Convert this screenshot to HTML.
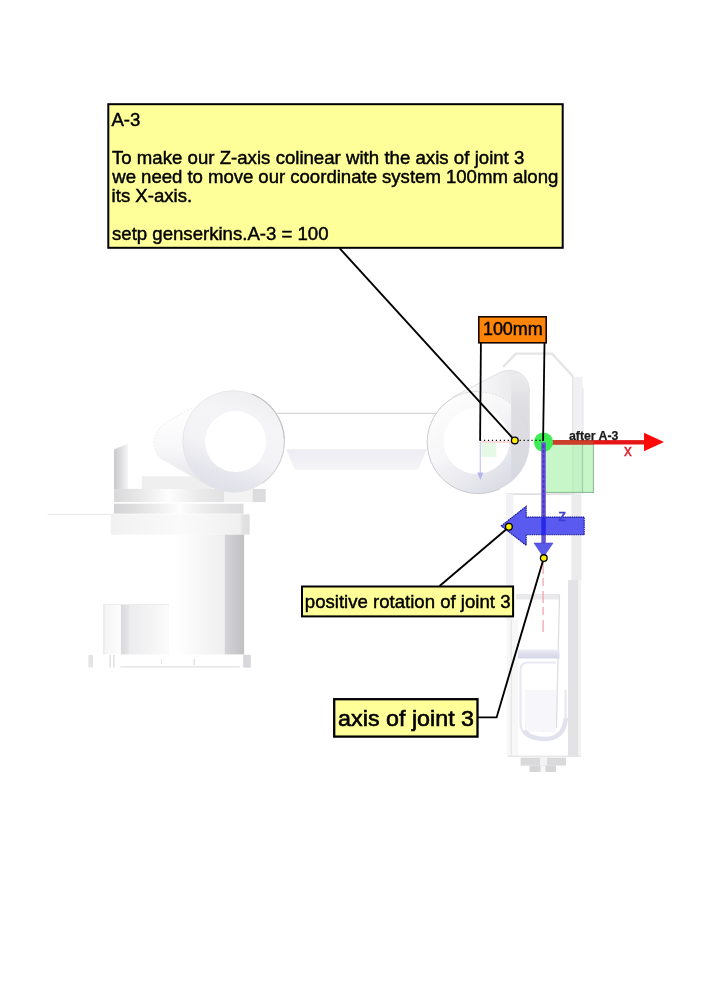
<!DOCTYPE html>
<html lang="en">
<head>
<meta charset="utf-8">
<title>A-3</title>
<style>
html,body{margin:0;padding:0;background:#fff;}
body{width:707px;height:1000px;overflow:hidden;position:relative;font-family:"Liberation Sans",Arial,sans-serif;}
svg{position:absolute;left:0;top:0;display:block;}
text{font-family:"Liberation Sans",Arial,sans-serif;}
.note{fill:#000;font-size:18.6px;stroke:#000;stroke-width:0.45px;}
</style>
</head>
<body>
<svg width="707" height="1000" viewBox="0 0 707 1000" style="will-change:transform">
<defs>
  <linearGradient id="gStrip" x1="0" x2="1" y1="0" y2="0">
    <stop offset="0" stop-color="#c9c9cb"/><stop offset="0.45" stop-color="#dcdcde"/><stop offset="1" stop-color="#f6f6f6"/>
  </linearGradient>
  <linearGradient id="gPlate" x1="0" x2="1" y1="0" y2="0">
    <stop offset="0" stop-color="#dedee0"/><stop offset="0.42" stop-color="#fafafa"/><stop offset="0.75" stop-color="#ececee"/><stop offset="1" stop-color="#e2e2e4"/>
  </linearGradient>
  <linearGradient id="gPlate2" x1="0" x2="1" y1="0" y2="0">
    <stop offset="0" stop-color="#d2d2d4"/><stop offset="0.25" stop-color="#e6e6e7"/><stop offset="0.5" stop-color="#fdfdfd"/><stop offset="0.75" stop-color="#e8e8e9"/><stop offset="1" stop-color="#dcdcde"/>
  </linearGradient>
  <linearGradient id="gFlange" x1="0" x2="1" y1="0" y2="0">
    <stop offset="0" stop-color="#f1f1f1"/><stop offset="0.5" stop-color="#fafafa"/><stop offset="0.93" stop-color="#f0f0f0"/><stop offset="0.95" stop-color="#e2e2e4"/><stop offset="1" stop-color="#dededf"/>
  </linearGradient>
  <linearGradient id="gCol" x1="0" x2="1" y1="0" y2="0">
    <stop offset="0" stop-color="#ffffff"/><stop offset="0.45" stop-color="#ffffff"/><stop offset="0.84" stop-color="#efeff0"/><stop offset="0.85" stop-color="#d4d4d8"/><stop offset="0.93" stop-color="#c9c9cd"/><stop offset="1" stop-color="#c1c1c3"/>
  </linearGradient>
  <linearGradient id="gBox" x1="0" x2="1" y1="0" y2="0">
    <stop offset="0" stop-color="#f4f4f4"/><stop offset="0.26" stop-color="#fdfdfd"/><stop offset="0.27" stop-color="#dadadc"/><stop offset="0.38" stop-color="#e4e4e6"/><stop offset="0.4" stop-color="#ececee"/><stop offset="1" stop-color="#fbfbfb"/>
  </linearGradient>
  <linearGradient id="gBody" x1="0" x2="0" y1="0" y2="1">
    <stop offset="0" stop-color="#ffffff"/><stop offset="0.5" stop-color="#f8f8fa"/><stop offset="1" stop-color="#e2e2e8"/>
  </linearGradient>
  <linearGradient id="gRing" x1="0.15" y1="0.1" x2="0.8" y2="0.95">
    <stop offset="0" stop-color="#fdfdfd"/><stop offset="0.4" stop-color="#f6f6f8"/><stop offset="0.75" stop-color="#e6e6ed"/><stop offset="1" stop-color="#d9d9e3"/>
  </linearGradient>
  <linearGradient id="gRing2" x1="0.75" y1="0" x2="0.4" y2="1">
    <stop offset="0" stop-color="#eeeef0"/><stop offset="0.3" stop-color="#f5f5f7"/><stop offset="0.62" stop-color="#f3f3f6"/><stop offset="0.85" stop-color="#e5e5ed"/><stop offset="1" stop-color="#e0e0ea"/>
  </linearGradient>
  <linearGradient id="gWall" x1="0" x2="1" y1="0" y2="0">
    <stop offset="0" stop-color="#f1f1f4"/><stop offset="0.5" stop-color="#dfdfe4"/><stop offset="1" stop-color="#d4d4da"/>
  </linearGradient>
  <linearGradient id="gWall2" x1="0" x2="0" y1="0" y2="1">
    <stop offset="0" stop-color="#ececee"/><stop offset="0.3" stop-color="#dedee2"/><stop offset="1" stop-color="#d8d8e0"/>
  </linearGradient>
  <linearGradient id="gLav" x1="0" x2="0" y1="0" y2="1">
    <stop offset="0" stop-color="#eeeef7"/><stop offset="0.5" stop-color="#dedeee"/><stop offset="1" stop-color="#d6d6ea"/>
  </linearGradient>
  <linearGradient id="gBack" gradientUnits="userSpaceOnUse" x1="452" y1="0" x2="530" y2="0">
    <stop offset="0" stop-color="#ffffff"/><stop offset="0.35" stop-color="#f8f8f9"/><stop offset="0.75" stop-color="#ebebee"/><stop offset="1" stop-color="#e0e0e4"/>
  </linearGradient>
  <linearGradient id="gArm" x1="0" x2="0" y1="0" y2="1">
    <stop offset="0" stop-color="#ececf3"/><stop offset="0.6" stop-color="#f1f1f6"/><stop offset="1" stop-color="#f6f6f9"/>
  </linearGradient>
</defs>
<rect x="0" y="0" width="707" height="1000" fill="#ffffff"/>

<!-- ROBOT -->
<g id="robot">
  <!-- base -->
  <polygon points="114,449.5 128,443.5 128,489 114,489" fill="url(#gStrip)"/>
  <rect x="141.8" y="476.3" width="70" height="12.8" fill="#efeff0"/>
  <rect x="114" y="488.9" width="110" height="13.2" fill="url(#gPlate2)" opacity="0.85"/>
  <rect x="224" y="488.9" width="29" height="13.2" fill="#f3f3f4"/>
  <rect x="252.7" y="488.9" width="13" height="13.2" fill="#dcdcde"/>
  <rect x="114" y="503.7" width="129.5" height="10" fill="url(#gPlate2)"/>
  <line x1="47.5" y1="514.3" x2="114" y2="514.3" stroke="#e6e6e6" stroke-width="1"/>
  <rect x="110.8" y="514.3" width="138.8" height="20.4" fill="url(#gFlange)"/>
  <rect x="120" y="534.7" width="124.1" height="119.7" fill="url(#gCol)"/>
  <rect x="103.4" y="604" width="65.6" height="50.4" fill="url(#gBox)"/>
  <rect x="103.4" y="604" width="65.6" height="1" fill="#ececec"/>
  <rect x="103.4" y="604" width="1" height="50.4" fill="#e4e4e4"/>
  <rect x="88.4" y="655" width="4.6" height="12.4" fill="#e4e4e6"/>
  <rect x="109.4" y="655" width="1.4" height="12.4" fill="#dcdcde"/>
  <rect x="113.2" y="655" width="1.4" height="12.4" fill="#dcdcde"/>
  <rect x="120.4" y="666.2" width="119.4" height="1.3" fill="#e2e2e4"/>
  <rect x="243.2" y="654.8" width="7.6" height="12.8" fill="#d8d8dc"/>
  <rect x="161" y="659" width="1" height="5" fill="#e6e6e6"/>
  <rect x="193.6" y="659" width="1.2" height="6" fill="#dcdcdc"/>
  <!-- shoulder oblique cylinder -->
  <path d="M192,408 L166,422.5 C151,432 151,452 163,460 L212,488 L250,470 L250,410 Z" fill="url(#gBody)"/>
  <path d="M192,408 L166,422.5 C151,432 151,452 163,460" fill="none" stroke="#ededf0" stroke-width="1" stroke-dasharray="2 1.5"/>
  <circle cx="233.5" cy="441.4" r="51" fill="url(#gRing2)"/>
  <circle cx="233.5" cy="441.4" r="50.6" fill="none" stroke="#e4e4e8" stroke-width="0.8"/>
  <circle cx="235.6" cy="441.6" r="30.5" fill="#ffffff"/>
  <path d="M252,394 A51,51 0 0 1 284.4,439" fill="none" stroke="#bebec2" stroke-width="1.1"/>
  <path d="M284.4,439 A51,51 0 0 1 262,483.5" fill="none" stroke="#d0d0d4" stroke-width="1"/>
  <!-- upper arm -->
  <line x1="277" y1="413.3" x2="436" y2="413.3" stroke="#c6c6c8" stroke-width="0.9"/>
  <polygon points="286,449.2 427,449.2 418,470 295,470" fill="url(#gArm)"/>
  <!-- elbow -->
  <path d="M452,397.5 L500,372.5 C516,366 529.5,376 529.5,392 L529.5,445 L500,470 Z" fill="url(#gBack)"/>
  <path d="M452,397.5 L500,372.5 C516,366 529.5,376 529.5,392" fill="none" stroke="#e4e4e8" stroke-width="1.2"/>
  <circle cx="478.3" cy="442.5" r="51.2" fill="url(#gRing)"/>
  <path d="M511.2,376 C520,368 529.5,378 529.5,392 L529.5,445 A51.2,51.2 0 0 1 511.2,481.6 Z" fill="url(#gWall2)"/>
  <path d="M427.2,442.5 A51.2,51.2 0 0 0 500,488.8" fill="none" stroke="#ccccd2" stroke-width="1"/>
  <path d="M427.2,442.5 A51.2,51.2 0 0 1 452,398.5" fill="none" stroke="#ccccd0" stroke-width="1"/>
  <path d="M452,398.5 A51.2,51.2 0 0 1 478.3,391.3" fill="none" stroke="#e0e0e4" stroke-width="1"/>
  <circle cx="476.5" cy="441" r="33" fill="#ffffff"/>
  <path d="M478.3,391.8 A50.7,50.7 0 0 1 529,442.5" fill="none" stroke="#d6d6dc" stroke-width="0.8" stroke-dasharray="2 1.5"/>
  <!-- forearm housing -->
  <path d="M503,367 L516,353.6 L552,353.6 L572,375.5 L582.3,389 L582.3,494" fill="none" stroke="#e5e5e7" stroke-width="2.4"/>
  <rect x="572.2" y="377" width="10.4" height="117" fill="#f1f1f3"/>
  <rect x="572.2" y="377" width="1.2" height="117" fill="#e4e4e6"/>
  <rect x="506.7" y="493.4" width="68" height="1.4" fill="#d9d9db"/>
  <rect x="506" y="494" width="7.4" height="126" fill="#f2f2f4"/>
  <rect x="507" y="620" width="11" height="136.6" fill="#f7f7f8"/>
  <rect x="510.8" y="620" width="1.1" height="136.6" fill="#e6e6e8"/>
  <rect x="571.4" y="494" width="10" height="86" fill="#ebebed"/>
  <rect x="568" y="580" width="10.6" height="176.6" fill="#e3e3e6"/>
  <rect x="578.6" y="580" width="2.6" height="176.6" fill="#f3f3f4"/>
  <rect x="516" y="594" width="44" height="5.5" fill="#e9e9eb"/>
  <line x1="559.5" y1="595" x2="556.4" y2="728" stroke="#dedee4" stroke-width="1.3"/>
  <rect x="518" y="649.5" width="41.5" height="9" fill="url(#gLav)"/>
  <rect x="525" y="690" width="31" height="42" fill="#f6f6fb"/>
  <path d="M520.5,670 C520.5,664 524,662.5 528,662.5 L556,662.5 M520.5,670 L520.5,722 C520.5,735 530,739.5 543,739.5 C556,739.5 565.5,735 565.5,722 L565.5,690" fill="none" stroke="#e8e8f2" stroke-width="2.2"/>
  <path d="M524,731 C530,738 538,739 545,739 C557,739 564,733 566,718" fill="none" stroke="#e2e2ee" stroke-width="4.5"/>
  <rect x="507.7" y="755.6" width="73.3" height="1.2" fill="#e4e4e6"/>
  <rect x="520.6" y="757.6" width="45.4" height="8" fill="#dadadc"/>
  <rect x="540" y="757.6" width="7" height="8" fill="#f4f4f4"/>
  <rect x="529.5" y="765.6" width="26.5" height="6.4" fill="#d6d6d8"/>
  <rect x="540.5" y="765.6" width="5" height="6.4" fill="#f6f6f6"/>
  <line x1="543.1" y1="562" x2="543.1" y2="632" stroke="#f2a0a8" stroke-width="1.2" stroke-dasharray="12 4 8 5"/>
</g>

<!-- AXES -->
<g id="axes">
  <!-- faint old frame -->
  <rect x="481.3" y="443" width="15" height="14" fill="#e6f9e6"/>
  <line x1="481" y1="442" x2="512" y2="442" stroke="#f6b8b8" stroke-width="1"/>
  <line x1="480.3" y1="442" x2="480.3" y2="474" stroke="#c9c9f2" stroke-width="1.2"/>
  <polygon points="477.3,472.5 483.3,472.5 480.3,480" fill="#b4b4ee"/>
  <!-- green plane -->
  <rect x="546" y="444" width="47.4" height="48.4" fill="#a4f2a8" fill-opacity="0.62"/>
  <rect x="592.9" y="444" width="1" height="48.9" fill="#86b78e"/>
  <rect x="546" y="491.9" width="47.9" height="1" fill="#86b78e"/>
  <rect x="581.9" y="444" width="1" height="48" fill="#9ccaa2"/>
  <!-- dotted -->
  
  <!-- red X axis -->
  <rect x="547" y="440.1" width="99" height="4.4" fill="#e61616"/>
  <rect x="547" y="440.1" width="46.4" height="4.4" fill="#cc3e2c"/>
  <polygon points="644,432.8 664,442 644,451.2" fill="#ff0808"/>
  <!-- green circle -->
  <circle cx="543.5" cy="442.1" r="9.6" fill="#3cee52"/>
  <!-- blue Z axis -->
  <rect x="541.3" y="442.5" width="4.5" height="102" fill="#6450d4"/>
  <line x1="543.5" y1="445" x2="543.5" y2="516" stroke="#4a34c4" stroke-width="1.6" stroke-dasharray="3 2"/>
  <polygon points="534,543.1 553,543.1 543.5,557" fill="#5a5ae8" stroke="#4040c0" stroke-width="0.6"/>
  <!-- big arrow -->
  <polygon points="501.2,525.9 526.2,506.3 526.2,517.1 584.2,517.1 584.2,534.8 526.2,534.8 526.2,545.4" fill="#5a5af0" stroke="#141494" stroke-width="1.1" stroke-dasharray="1.5 0.7"/>
  <rect x="541.3" y="517.4" width="4.5" height="17.2" fill="#2828e6"/>
</g>

<!-- CALLOUT LINES -->
<g id="lines" stroke="#000" stroke-width="1.9" fill="none" stroke-linecap="butt">
  <line x1="339.7" y1="248.4" x2="514.7" y2="440.3"/>
  <line x1="480" y1="440.3" x2="542" y2="440.3" stroke-width="1.2" stroke-dasharray="1.2 2.76"/>
  <line x1="480.9" y1="343" x2="480.1" y2="440.8" stroke-width="1.8"/>
  <line x1="544.5" y1="343" x2="543.1" y2="441" stroke-width="1.8"/>
  <line x1="439.6" y1="586" x2="509" y2="527"/>
  <polyline points="478,717.4 496.6,717.4 543.8,558"/>
</g>
<g id="dots" fill="#fff000" stroke="#000" stroke-width="1.3">
  <circle cx="514.8" cy="440.4" r="3.35"/>
  <circle cx="508.9" cy="526.8" r="3.35"/>
  <circle cx="543.8" cy="558.1" r="3.35"/>
</g>

<!-- BOXES -->
<g id="boxes">
  <rect x="108.3" y="104.2" width="454.4" height="143.6" fill="#ffff99" stroke="#000" stroke-width="2"/>
  <text class="note" x="111.4" y="126">A-3</text>
  <text class="note" x="111.9" y="163.8" style="word-spacing:0.12px">To make our Z-axis colinear with the axis of joint 3</text>
  <text class="note" x="112.3" y="182.9" style="word-spacing:-0.18px">we need to move our coordinate system 100mm along</text>
  <text class="note" x="111.6" y="201.8">its X-axis.</text>
  <text class="note" x="112" y="239.6">setp genserkins.A-3 = 100</text>

  <rect x="478.8" y="316.8" width="67.4" height="26" fill="#ff8508" stroke="#1a0800" stroke-width="1.6"/>
  <text class="note" transform="translate(482.9,334.9) scale(0.945,1)" x="0" y="0" style="font-size:19px">100mm</text>

  <rect x="302" y="586.5" width="211.1" height="29.9" fill="#ffff99" stroke="#000" stroke-width="2"/>
  <text class="note" x="304.8" y="607.6">positive rotation of joint 3</text>

  <rect x="334.2" y="699.2" width="143.3" height="37.4" fill="#ffff99" stroke="#000" stroke-width="2.3"/>
  <text class="note" transform="translate(338.1,725.6) scale(1.045,1)" x="0" y="0" style="font-size:22.3px;stroke-width:0.6px">axis of joint 3</text>

  <text x="569" y="439.8" font-size="12.3" font-weight="bold" fill="#1c1c1c" stroke="#1c1c1c" stroke-width="0.25">after A-3</text>
  <text x="624.1" y="455.7" font-size="15.6" fill="#e0202c" stroke="#e0202c" stroke-width="0.4">x</text>
  <text x="558.3" y="520.6" font-size="16" fill="#3e3ecc" stroke="#3e3ecc" stroke-width="0.3">z</text>
</g>
</svg>
</body>
</html>
